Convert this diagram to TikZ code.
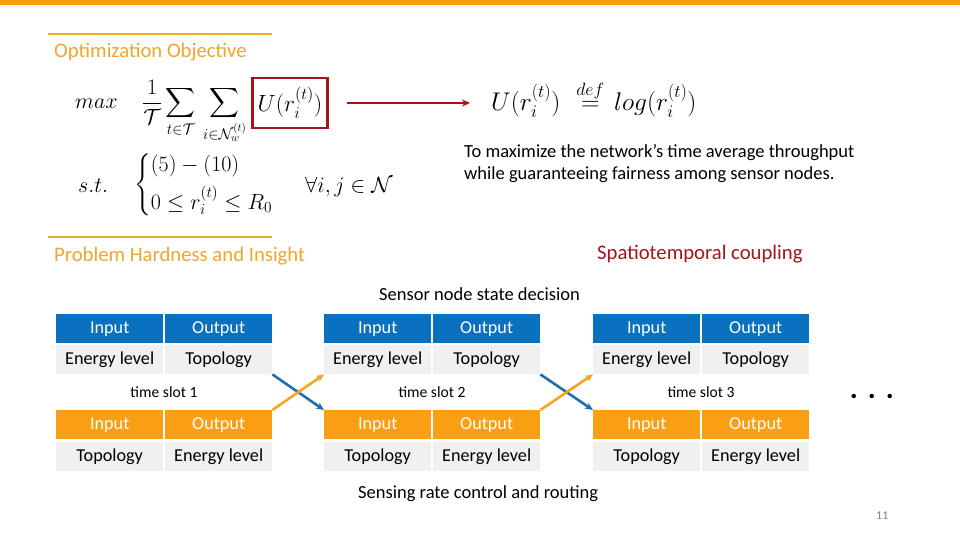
\RequirePackage{fix-cm}
\documentclass[tikz,border=0pt]{standalone}
\usepackage{exscale}
\usepackage[no-math]{fontspec}
\setmainfont{Carlito}
\usetikzlibrary{arrows.meta}
\definecolor{topor}{RGB}{247,160,10}
\definecolor{heador}{RGB}{240,165,45}
\definecolor{cellor}{RGB}{250,158,20}
\definecolor{cellbl}{RGB}{10,112,192}
\definecolor{cellgr}{RGB}{240,240,240}
\definecolor{dred}{RGB}{165,20,25}
\definecolor{arrbl}{RGB}{30,110,180}
\definecolor{arror}{RGB}{245,165,35}
\tikzset{
  heading/.style={anchor=base west,inner sep=0pt,text=heador,font=\fontsize{20.7}{24}\selectfont},
  body/.style={inner sep=0pt,text=black,font=\fontsize{18.5}{22}\selectfont},
  mathtxt/.style={inner sep=0pt,font=\fontsize{22}{26}\selectfont},
  cellbase/.style={anchor=north west,minimum width=107pt,minimum height=29pt,inner sep=0pt,font=\fontsize{18.2}{20}\selectfont},
  hblue/.style={cellbase,fill=cellbl,text=white},
  horange/.style={cellbase,fill=cellor,text=white},
  hgray/.style={cellbase,fill=cellgr,text=black},
  slot/.style={inner sep=0pt,font=\fontsize{15.6}{17}\selectfont},
  xarrow/.style={line width=2.6pt,-{Stealth[length=8pt,width=7pt]}},
}
\begin{document}
\begin{tikzpicture}[x=1pt,y=-1pt]
\useasboundingbox (0,0) rectangle (960,540);
\fill[topor] (0,0) rectangle (960,5);
% headings
\draw[heador,line width=2.4pt] (48,34) -- (272,34);
\node[heading] (h1) at (54,58) {Optimization Objective};
\draw[heador,line width=2.4pt] (48,237) -- (272,237);
\node[heading] (h2) at (54,261) {Problem Hardness and Insight};
\node[heading,text=dred] (h3) at (597,259) {Spatiotemporal coupling};
% formula
\node[mathtxt,anchor=base west] (mx) at (75,109) {$max$};
\node[mathtxt,anchor=base west] (sums) at (142,109) {$\displaystyle \frac{1}{\mathcal{T}}\sum_{t\in\mathcal{T}}\,\sum_{i\in\mathcal{N}_w^{(t)}}$};
\node[mathtxt,font=\fontsize{23.5}{27}\selectfont,draw=dred,line width=2.5pt,minimum width=75pt,minimum height=50pt] (ubox) at (290,103) {$U(r_i^{(t)})$};
\node[mathtxt,font=\fontsize{25.5}{30}\selectfont,anchor=base west] (def) at (491,111) {$U(r_i^{(t)})\hspace{9pt}\stackrel{def}{=}\hspace{3pt}log(r_i^{(t)})$};
\draw[dred,line width=2.5pt,-{Stealth[length=8pt,width=7pt]},shorten <=18pt,shorten >=21pt] (ubox.east) -- (ubox.east -| def.west);
\node[mathtxt,anchor=base west] (st) at (78,192) {$s.t.$};
\node[mathtxt,anchor=west] (cases) at (134,185) {$\left\{\begin{array}{@{}l@{}}(5)-(10)\\[7pt] 0\le r_i^{(t)}\le R_0\end{array}\right.$};
\node[mathtxt,anchor=base west] (fa) at (305,192) {$\forall i,j\in\mathcal{N}$};
\node[body,anchor=north west,align=left] (goal) at (464,144) {To maximize the network’s time average throughput\\while guaranteeing fairness among sensor nodes.};
% labels
\node[body,anchor=base west] (snsd) at (379,300) {Sensor node state decision};
\node[body,anchor=base west] (srcr) at (358,498) {Sensing rate control and routing};
% tables
\foreach \k/\x in {1/56,2/324,3/593}{
  \node[hblue] (t\k ih) at (\x,314) {Input};
  \node[hblue] (t\k oh) at (\x+109,314) {Output};
  \node[hgray] (t\k iv) at (\x,345) {Energy level};
  \node[hgray] (t\k ov) at (\x+109,345) {Topology};
  \node[slot] (ts\k) at (\x+108,392) {time slot \k};
  \node[horange] (b\k ih) at (\x,410) {Input};
  \node[horange] (b\k oh) at (\x+109,410) {Output};
  \node[hgray] (b\k iv) at (\x,442) {Topology};
  \node[hgray] (b\k ov) at (\x+109,442) {Energy level};
}
% crossing arrows
\draw[xarrow,arrbl] (t1ov.south east) -- (b2ih.north west);
\draw[xarrow,arror] (b1oh.north east) -- (t2iv.south west);
\draw[xarrow,arrbl] (t2ov.south east) -- (b3ih.north west);
\draw[xarrow,arror] (b2oh.north east) -- (t3iv.south west);
\node[inner sep=0pt,font=\bfseries\fontsize{30}{30}\selectfont] (dots) at (872,396) {.\,\,.\,\,.};
\node[inner sep=0pt,text=gray,font=\fontsize{12}{14}\selectfont,anchor=base west] (pg) at (876,519) {11};
\end{tikzpicture}
\end{document}
